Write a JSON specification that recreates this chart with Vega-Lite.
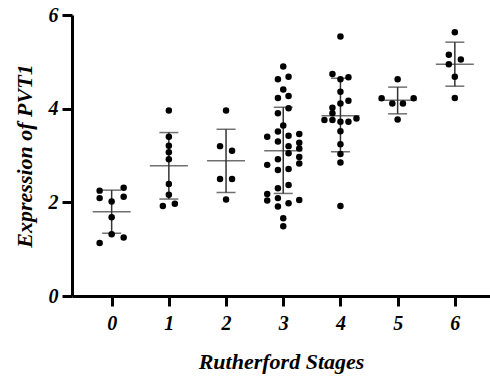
{
  "$schema": "https://vega.github.io/schema/vega-lite/v6.json",
  "width": 418,
  "height": 281,
  "autosize": "none",
  "padding": {"left": 72, "top": 15, "right": 0, "bottom": 81},
  "datasets": {
    "pts": [
      {"s": 0, "v": 2.25, "j": -0.21}, {"s": 0, "v": 2.31, "j": 0.21}, {"s": 0, "v": 2.09, "j": -0.21},
      {"s": 0, "v": 2.02, "j": 0}, {"s": 0, "v": 2.12, "j": 0.21}, {"s": 0, "v": 1.68, "j": 0},
      {"s": 0, "v": 1.32, "j": 0}, {"s": 0, "v": 1.25, "j": 0.21}, {"s": 0, "v": 1.13, "j": -0.21},
      {"s": 1, "v": 3.96, "j": 0}, {"s": 1, "v": 3.40, "j": 0}, {"s": 1, "v": 3.21, "j": 0},
      {"s": 1, "v": 3.07, "j": 0}, {"s": 1, "v": 2.92, "j": 0}, {"s": 1, "v": 2.39, "j": 0},
      {"s": 1, "v": 2.16, "j": 0}, {"s": 1, "v": 1.97, "j": 0.105}, {"s": 1, "v": 1.92, "j": -0.105},
      {"s": 2, "v": 3.96, "j": 0}, {"s": 2, "v": 3.20, "j": -0.105}, {"s": 2, "v": 3.10, "j": 0.105},
      {"s": 2, "v": 2.50, "j": -0.105}, {"s": 2, "v": 2.50, "j": 0.105}, {"s": 2, "v": 2.06, "j": 0},
      {"s": 3, "v": 4.90, "j": 0}, {"s": 3, "v": 4.63, "j": -0.093}, {"s": 3, "v": 4.68, "j": 0.093},
      {"s": 3, "v": 4.41, "j": 0}, {"s": 3, "v": 4.23, "j": -0.093}, {"s": 3, "v": 4.27, "j": 0.093},
      {"s": 3, "v": 4.01, "j": 0.093}, {"s": 3, "v": 3.90, "j": -0.093}, {"s": 3, "v": 3.64, "j": 0},
      {"s": 3, "v": 3.40, "j": -0.28}, {"s": 3, "v": 3.51, "j": -0.093}, {"s": 3, "v": 3.42, "j": 0.093},
      {"s": 3, "v": 3.46, "j": 0.28}, {"s": 3, "v": 3.30, "j": -0.093}, {"s": 3, "v": 3.20, "j": 0.093},
      {"s": 3, "v": 3.27, "j": 0.28}, {"s": 3, "v": 3.15, "j": 0.28}, {"s": 3, "v": 3.05, "j": 0.093},
      {"s": 3, "v": 2.97, "j": 0.28}, {"s": 3, "v": 2.83, "j": 0.28}, {"s": 3, "v": 2.92, "j": -0.093},
      {"s": 3, "v": 2.80, "j": -0.28}, {"s": 3, "v": 2.69, "j": -0.093}, {"s": 3, "v": 2.71, "j": 0.093},
      {"s": 3, "v": 2.37, "j": 0.093}, {"s": 3, "v": 2.30, "j": -0.093}, {"s": 3, "v": 2.18, "j": -0.28},
      {"s": 3, "v": 2.04, "j": -0.28}, {"s": 3, "v": 2.09, "j": -0.093}, {"s": 3, "v": 1.91, "j": -0.093},
      {"s": 3, "v": 1.98, "j": 0.093}, {"s": 3, "v": 2.05, "j": 0.28}, {"s": 3, "v": 1.66, "j": 0},
      {"s": 3, "v": 1.49, "j": 0},
      {"s": 4, "v": 5.54, "j": 0}, {"s": 4, "v": 4.74, "j": -0.14}, {"s": 4, "v": 4.63, "j": 0},
      {"s": 4, "v": 4.67, "j": 0.14}, {"s": 4, "v": 4.36, "j": 0}, {"s": 4, "v": 4.17, "j": 0.14},
      {"s": 4, "v": 4.11, "j": 0}, {"s": 4, "v": 4.02, "j": -0.14}, {"s": 4, "v": 3.90, "j": -0.14},
      {"s": 4, "v": 3.76, "j": -0.28}, {"s": 4, "v": 3.76, "j": -0.14}, {"s": 4, "v": 3.72, "j": 0},
      {"s": 4, "v": 3.72, "j": 0.14}, {"s": 4, "v": 3.79, "j": 0.28}, {"s": 4, "v": 3.52, "j": 0},
      {"s": 4, "v": 3.24, "j": 0}, {"s": 4, "v": 3.03, "j": 0}, {"s": 4, "v": 2.85, "j": 0},
      {"s": 4, "v": 1.92, "j": 0},
      {"s": 5, "v": 4.63, "j": 0}, {"s": 5, "v": 4.22, "j": -0.28}, {"s": 5, "v": 4.11, "j": -0.093},
      {"s": 5, "v": 4.11, "j": 0.093}, {"s": 5, "v": 4.22, "j": 0.28}, {"s": 5, "v": 3.77, "j": 0},
      {"s": 6, "v": 5.63, "j": 0}, {"s": 6, "v": 5.15, "j": -0.105}, {"s": 6, "v": 5.05, "j": 0.105},
      {"s": 6, "v": 4.95, "j": -0.105}, {"s": 6, "v": 4.68, "j": 0}, {"s": 6, "v": 4.23, "j": 0}
    ],
    "sum": [
      {"s": 0, "mean": 1.80, "lo": 1.34, "hi": 2.26},
      {"s": 1, "mean": 2.78, "lo": 2.07, "hi": 3.49},
      {"s": 2, "mean": 2.89, "lo": 2.21, "hi": 3.56},
      {"s": 3, "mean": 3.10, "lo": 2.19, "hi": 4.03},
      {"s": 4, "mean": 3.85, "lo": 3.08, "hi": 4.65},
      {"s": 5, "mean": 4.18, "lo": 3.89, "hi": 4.46},
      {"s": 6, "mean": 4.95, "lo": 4.48, "hi": 5.42}
    ]
  },
  "encoding": {
    "x": {
      "field": "s", "type": "ordinal",
      "scale": {"type": "point", "domain": [0, 1, 2, 3, 4, 5, 6], "padding": 0.654, "align": 0.53},
      "axis": {"title": "Rutherford Stages", "labelAngle": 0, "tickSize": 10, "labelPadding": 7, "titlePadding": 18}
    }
  },
  "layer": [
    {
      "data": {"name": "sum"},
      "mark": {"type": "rule", "color": "#333", "strokeWidth": 1.5},
      "encoding": {
        "y": {"field": "lo", "type": "quantitative", "title": "Expression of PVT1",
          "scale": {"domain": [0, 6], "nice": false},
          "axis": {"values": [0, 2, 4, 6], "tickSize": 10, "labelPadding": 4, "titlePadding": 12}},
        "y2": {"field": "hi"}
      }
    },
    {
      "data": {"name": "sum"},
      "mark": {"type": "tick", "color": "#333", "size": 19, "thickness": 1.5},
      "encoding": {"y": {"field": "lo", "type": "quantitative", "title": "Expression of PVT1"}}
    },
    {
      "data": {"name": "sum"},
      "mark": {"type": "tick", "color": "#333", "size": 19, "thickness": 1.5},
      "encoding": {"y": {"field": "hi", "type": "quantitative", "title": "Expression of PVT1"}}
    },
    {
      "data": {"name": "sum"},
      "mark": {"type": "tick", "color": "#333", "size": 38, "thickness": 1.5},
      "encoding": {"y": {"field": "mean", "type": "quantitative", "title": "Expression of PVT1"}}
    },
    {
      "data": {"name": "pts"},
      "mark": {"type": "circle", "color": "black", "opacity": 1, "size": 42},
      "encoding": {
        "y": {"field": "v", "type": "quantitative", "title": "Expression of PVT1"},
        "xOffset": {"field": "j", "type": "quantitative", "scale": {"domain": [-0.5, 0.5], "range": [-28.6, 28.6]}}
      }
    }
  ],
  "config": {
    "view": {"stroke": null},
    "axis": {
      "grid": false,
      "domainColor": "black", "domainWidth": 3,
      "tickColor": "black", "tickWidth": 3,
      "labelFont": "Liberation Serif", "labelFontSize": 20, "labelFontWeight": "bold", "labelFontStyle": "italic", "labelColor": "black",
      "titleFont": "Liberation Serif", "titleFontSize": 22, "titleFontWeight": "bold", "titleFontStyle": "italic", "titleColor": "black"
    }
  }
}
